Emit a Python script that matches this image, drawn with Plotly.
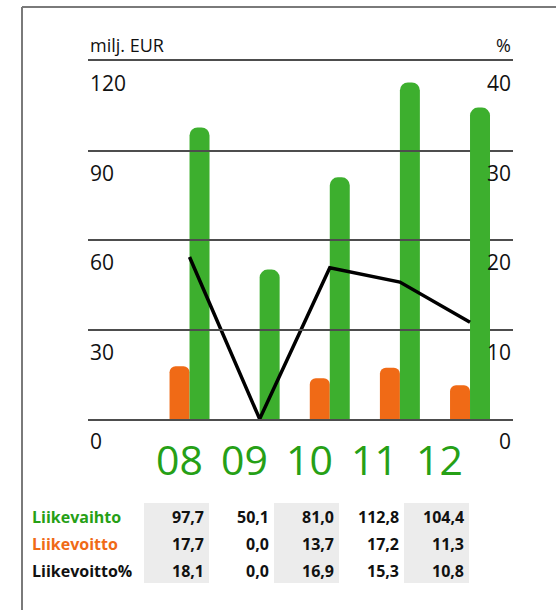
import plotly.graph_objects as go

years = ["08", "09", "10", "11", "12"]
liikevaihto = [97.7, 50.1, 81.0, 112.8, 104.4]
liikevoitto = [17.7, 0.0, 13.7, 17.2, 11.3]
liikevoitto_pct = [18.1, 0.0, 16.9, 15.3, 10.8]
left_ticks = [0, 30, 60, 90, 120]
right_ticks = [0, 10, 20, 30, 40]
row_labels = ["Liikevaihto", "Liikevoitto", "Liikevoitto%"]
left_unit = "milj. EUR"
right_unit = "%"

GREEN = "#3daf2e"
GREEN_TXT = "#26a016"
ORANGE = "#f06a16"
GRID = "#4d4d4d"
FONT = "Open Sans"

idx = list(range(len(years)))
W, H = 556, 610
ml, mr, mt, mb = 88, 43, 61, 191
pw, ph = W - ml - mr, H - mt - mb
bw = 0.285

fig = go.Figure()
fig.add_trace(go.Bar(x=idx, y=liikevoitto, width=bw, offset=-bw,
                     marker=dict(color=ORANGE, cornerradius=6, line_width=0),
                     showlegend=False, hoverinfo="skip"))
fig.add_trace(go.Bar(x=idx, y=liikevaihto, width=bw, offset=0,
                     marker=dict(color=GREEN, cornerradius=8, line_width=0),
                     showlegend=False, hoverinfo="skip"))
fig.add_trace(go.Scatter(x=idx, y=liikevoitto_pct, yaxis="y2", mode="lines",
                         line=dict(color="#000000", width=3.5),
                         showlegend=False, hoverinfo="skip"))
# helper (invisible) trace defining the table/label column axis
fig.add_trace(go.Scatter(x=idx, y=[0] * len(idx), xaxis="x2", yaxis="y",
                         mode="markers", marker=dict(opacity=0),
                         showlegend=False, hoverinfo="skip"))

tbl_left, tbl_right = 144, 469
fig.update_layout(
    width=W, height=H, autosize=False,
    margin=dict(l=ml, r=mr, t=mt, b=mb, pad=0),
    paper_bgcolor="#ffffff", plot_bgcolor="rgba(0,0,0,0)",
    barmode="overlay",
    font=dict(family=FONT, color="#111111"),
    xaxis=dict(range=[-1.448, 4.613], showgrid=False, zeroline=False,
               showticklabels=False, ticks="", showline=True, mirror=True,
               linecolor=GRID, linewidth=2),
    xaxis2=dict(domain=[(tbl_left - ml) / pw, (tbl_right - ml) / pw],
                range=[-0.5, len(years) - 0.5], anchor="y", visible=False),
    yaxis=dict(range=[0, 120], tickvals=left_ticks, showgrid=True,
               gridcolor=GRID, gridwidth=2, zeroline=False,
               showticklabels=False, ticks="", showline=False),
    yaxis2=dict(range=[0, 40], overlaying="y", side="right", showgrid=False,
                zeroline=False, showticklabels=False, ticks="", showline=False),
)

ann = []
# axis tick labels under gridlines
for t in left_ticks:
    ann.append(dict(x=0, xref="paper", y=t, yref="y", text=str(t),
                    xanchor="left", yanchor="top", yshift=-6, showarrow=False,
                    font=dict(size=21, color="#111111")))
for t in right_ticks:
    ann.append(dict(x=1, xref="paper", y=t, yref="y2", text=str(t),
                    xanchor="right", yanchor="top", yshift=-6, showarrow=False,
                    font=dict(size=21, color="#111111")))
ann.append(dict(x=0, xref="paper", y=1, yref="paper", text=left_unit,
                xanchor="left", yanchor="bottom", yshift=2, showarrow=False,
                font=dict(size=18, color="#111111")))
ann.append(dict(x=1, xref="paper", y=1, yref="paper", text=right_unit,
                xanchor="right", yanchor="bottom", yshift=2, showarrow=False,
                font=dict(size=18, color="#111111")))
# big year labels
for i, yv in zip(idx, years):
    ann.append(dict(x=i, xref="x2", y=0, yref="paper", text=yv,
                    xanchor="center", yanchor="top", yshift=-10, xshift=3,
                    showarrow=False, font=dict(size=41, color=GREEN_TXT)))

# data table
rows = [liikevaihto, liikevoitto, liikevoitto_pct]
row_colors = [GREEN_TXT, ORANGE, "#111111"]
row_y = [517, 544, 571]
for lab, vals, col, ry in zip(row_labels, rows, row_colors, row_y):
    ann.append(dict(x=(30 - ml) / pw, xref="paper", y=0, yref="paper",
                    text="<b>" + lab + "</b>", xanchor="left", yanchor="middle",
                    yshift=-(ry - (H - mb)), showarrow=False,
                    font=dict(size=16, color=col)))
    for i, v in zip(idx, vals):
        ann.append(dict(x=i + 0.5, xref="x2", y=0, yref="paper",
                        text="<b>" + f"{v:.1f}".replace(".", ",") + "</b>",
                        xanchor="right", yanchor="middle", xshift=-3,
                        yshift=-(ry - (H - mb)), showarrow=False,
                        font=dict(size=16, color="#111111")))
fig.update_layout(annotations=ann)

shapes = []
for i in idx[::2]:
    shapes.append(dict(type="rect", xref="x2", yref="paper",
                       x0=i - 0.5, x1=i + 0.5,
                       y0=-(503 - (H - mb)) / ph, y1=-(583 - (H - mb)) / ph,
                       fillcolor="#ececec", line_width=0, layer="below"))
# frame
fx = (22 - ml) / pw
fy = 1 + (mt - 7) / ph
shapes.append(dict(type="line", xref="paper", yref="paper", x0=fx, x1=1.2,
                   y0=fy, y1=fy, line=dict(color="#7a7a7a", width=2)))
shapes.append(dict(type="line", xref="paper", yref="paper", x0=fx, x1=fx,
                   y0=fy, y1=-0.6, line=dict(color="#7a7a7a", width=2)))
fig.update_layout(shapes=shapes)

fig.write_html("out.html",
               config={"displayModeBar": False},
               post_script="document.body.style.margin='0';"
                           "document.body.style.padding='0';")
